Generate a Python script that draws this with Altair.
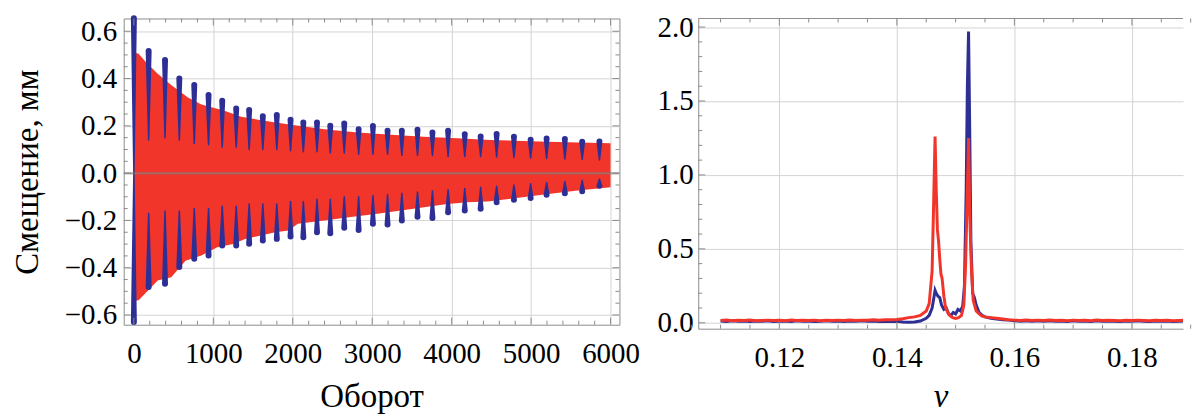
import altair as alt
import pandas as pd

FONT = "Liberation Serif, Times New Roman, serif"
BLUE = "#2e2f95"
RED = "#f2352b"
FRAME = "#8c8c8c"
GRID = "#d4d4d4"

# ---------------- left panel: envelope of the oscillations ----------------
RED_TURN_UP = [0, 60, 150, 300, 470, 680, 850, 1140, 1350, 1640, 1980, 2400,
               2820, 3240, 3650, 4070, 4490, 4800, 5200, 5600, 6000]
RED_UP = [0.51, 0.505, 0.47, 0.42, 0.373, 0.32, 0.29, 0.264, 0.238, 0.222,
          0.205, 0.186, 0.172, 0.162, 0.154, 0.148, 0.14, 0.137, 0.133, 0.13, 0.126]
RED_TURN_LO = [0, 60, 300, 470, 650, 850, 1050, 1250, 1400, 1600, 1780, 1950,
               2063, 2397, 2732, 3068, 3361, 3653, 3947, 4198, 4450, 4721, 5141,
               5559, 6000]
RED_LO = [-0.54, -0.538, -0.454, -0.44, -0.37, -0.348, -0.313, -0.30, -0.278,
          -0.264, -0.25, -0.243, -0.214, -0.2, -0.186, -0.172, -0.158, -0.144,
          -0.13, -0.123, -0.12, -0.109, -0.091, -0.074, -0.06]

# blue beat lobes (turn of the lobe, tip and inner end of each lobe)
LOBE_TURN = [0, 186, 392, 572, 760, 940, 1112, 1288, 1451, 1623, 1799, 1972,
             2133, 2305, 2472, 2648, 2829, 3009, 3193, 3373, 3570, 3758, 3955,
             4165, 4365, 4566, 4784, 4994, 5195, 5425, 5643, 5860]
LOBE_UP_TIP = [0.655, 0.517, 0.479, 0.40, 0.373, 0.33, 0.306, 0.273, 0.267,
               0.241, 0.246, 0.226, 0.214, 0.214, 0.20, 0.21, 0.186, 0.199,
               0.179, 0.179, 0.184, 0.172, 0.179, 0.165, 0.155, 0.166, 0.154,
               0.141, 0.147, 0.144, 0.133, 0.134]
LOBE_UP_INNER = [0.0, 0.14, 0.15, 0.14, 0.125, 0.12, 0.11, 0.11, 0.10, 0.10,
                 0.10, 0.095, 0.09, 0.09, 0.085, 0.085, 0.08, 0.08, 0.08, 0.075,
                 0.075, 0.075, 0.07, 0.07, 0.07, 0.068, 0.066, 0.064, 0.062,
                 0.06, 0.058, 0.056]
LOBE_LO_TIP = [-0.63, -0.482, -0.468, -0.397, -0.362, -0.348, -0.306, -0.306,
               -0.299, -0.285, -0.278, -0.268, -0.271, -0.25, -0.254, -0.231,
               -0.24, -0.214, -0.217, -0.2, -0.184, -0.19, -0.165, -0.158,
               -0.151, -0.123, -0.113, -0.105, -0.091, -0.085, -0.077, -0.053]
LOBE_LO_INNER = [0.0, -0.17, -0.16, -0.16, -0.15, -0.15, -0.14, -0.14, -0.13,
                 -0.13, -0.13, -0.12, -0.12, -0.11, -0.11, -0.10, -0.10, -0.095,
                 -0.09, -0.085, -0.08, -0.075, -0.07, -0.065, -0.06, -0.055,
                 -0.05, -0.045, -0.04, -0.035, -0.03, -0.025]

LX_LABELS = [0, 1000, 2000, 3000, 4000, 5000, 6000]
LY_LABELS = [-0.6, -0.4, -0.2, 0.0, 0.2, 0.4, 0.6]
LX_MINOR = [v for v in range(-100, 6101, 100) if v % 200 == 0 and v % 1000 != 0]
LY_MINOR = [round(-0.6 + 0.05 * i, 2) for i in range(25) if i % 4 != 0]

# ---------------- right panel: spectra ----------------
NU_BLUE = [0.110, 0.111, 0.112, 0.113, 0.114, 0.115, 0.116, 0.117, 0.118, 0.119,
           0.120, 0.121, 0.122, 0.123, 0.124, 0.125, 0.126, 0.127, 0.128, 0.129,
           0.130, 0.131, 0.132, 0.133, 0.134, 0.135, 0.136, 0.137, 0.138, 0.139,
           0.140, 0.141, 0.142, 0.143, 0.144, 0.145, 0.1455, 0.1460, 0.1463,
           0.1465, 0.1467, 0.1470, 0.1473, 0.1476, 0.1480, 0.1484, 0.1488,
           0.1492, 0.1496, 0.1500, 0.1504, 0.1508, 0.1512, 0.1515, 0.1518,
           0.1520, 0.1522, 0.1524, 0.1526, 0.1529, 0.1532, 0.1535, 0.1540,
           0.1545, 0.1550, 0.1555, 0.1560, 0.157, 0.158, 0.159, 0.160, 0.161,
           0.162, 0.163, 0.164, 0.165, 0.166, 0.167, 0.168, 0.169, 0.170, 0.171,
           0.172, 0.173, 0.174, 0.175, 0.176, 0.177, 0.178, 0.179, 0.180, 0.181,
           0.182, 0.183, 0.184, 0.185, 0.186, 0.187, 0.188, 0.189, 0.190]
S_BLUE = [0.012, 0.009, 0.013, 0.010, 0.012, 0.008, 0.012, 0.010, 0.013, 0.009,
          0.011, 0.012, 0.009, 0.013, 0.010, 0.012, 0.009, 0.011, 0.013, 0.010,
          0.012, 0.009, 0.012, 0.011, 0.013, 0.010, 0.012, 0.008, 0.011, 0.009,
          0.010, 0.006, 0.004, 0.006, 0.012, 0.030, 0.05, 0.10, 0.17,
          0.22, 0.20, 0.18, 0.17, 0.12, 0.09, 0.10, 0.06,
          0.05, 0.07, 0.06, 0.09, 0.08, 0.11, 0.25, 0.90,
          1.60, 1.97, 1.30, 0.55, 0.20, 0.17, 0.12, 0.07,
          0.05, 0.04, 0.035, 0.03, 0.025, 0.02, 0.018, 0.014, 0.011,
          0.014, 0.010, 0.013, 0.011, 0.014, 0.010, 0.012, 0.009, 0.013, 0.011,
          0.012, 0.009, 0.013, 0.010, 0.012, 0.011, 0.009, 0.012, 0.010, 0.013,
          0.011, 0.009, 0.012, 0.010, 0.012, 0.009, 0.011, 0.012, 0.010]
NU_RED = [0.110, 0.111, 0.112, 0.113, 0.114, 0.115, 0.116, 0.117, 0.118, 0.119,
          0.120, 0.121, 0.122, 0.123, 0.124, 0.125, 0.126, 0.127, 0.128, 0.129,
          0.130, 0.131, 0.132, 0.133, 0.134, 0.135, 0.136, 0.137, 0.138, 0.139,
          0.140, 0.141, 0.142, 0.143, 0.144, 0.145, 0.1455, 0.1460, 0.1462,
          0.1465, 0.1467, 0.1469, 0.1471, 0.1473, 0.1475, 0.1477, 0.1480,
          0.1483, 0.1487, 0.1490, 0.1495, 0.1500, 0.1505, 0.1510, 0.1514,
          0.1517, 0.1520, 0.1522, 0.1524, 0.1525, 0.1527, 0.1530, 0.1535,
          0.1540, 0.1545, 0.155, 0.156, 0.157, 0.158, 0.159, 0.160, 0.161,
          0.162, 0.163, 0.164, 0.165, 0.166, 0.167, 0.168, 0.169, 0.170, 0.171,
          0.172, 0.173, 0.174, 0.175, 0.176, 0.177, 0.178, 0.179, 0.180, 0.181,
          0.182, 0.183, 0.184, 0.185, 0.186, 0.187, 0.188, 0.189, 0.190]
S_RED = [0.015, 0.018, 0.014, 0.017, 0.015, 0.018, 0.014, 0.016, 0.018, 0.015,
         0.017, 0.014, 0.018, 0.015, 0.017, 0.016, 0.018, 0.014, 0.017, 0.015,
         0.018, 0.016, 0.019, 0.015, 0.018, 0.017, 0.020, 0.018, 0.021, 0.020,
         0.022, 0.028, 0.035, 0.040, 0.050, 0.080, 0.13, 0.35, 0.70,
         1.26, 0.90, 0.63, 0.55, 0.43, 0.33, 0.30, 0.18,
         0.10, 0.07, 0.05, 0.035, 0.03, 0.035, 0.05, 0.12,
         0.40, 0.90, 1.25, 0.75, 0.61, 0.35, 0.15, 0.08,
         0.06, 0.045, 0.04, 0.035, 0.03, 0.025, 0.02, 0.018, 0.016,
         0.019, 0.015, 0.018, 0.016, 0.019, 0.015, 0.017, 0.014, 0.018, 0.016,
         0.017, 0.014, 0.018, 0.015, 0.017, 0.016, 0.014, 0.017, 0.015, 0.018,
         0.016, 0.014, 0.017, 0.015, 0.017, 0.014, 0.016, 0.017, 0.015]

RX_LABELS = [0.12, 0.14, 0.16, 0.18]
RY_LABELS = [0.0, 0.5, 1.0, 1.5, 2.0]
RX_MINOR = [round(0.105 + 0.005 * i, 3) for i in range(18) if (i + 1) % 4 != 0]
RY_MINOR = [round(0.1 * i, 1) for i in range(21) if i % 5 != 0]

# ---------------- geometry ----------------
W1, H1 = 497, 307
W2, H2 = 486, 311
X1_DOM = [-128, 6112]
Y1_DOM = [-0.641, 0.654]
X2_DOM = [0.1062, 0.1887]
Y2_DOM = [-0.040, 2.058]
MAJ, MIN = 7, 4
LABEL_SIZE = 29
TITLE_SIZE = 33

TXT = dict(labelFont=FONT, labelFontSize=LABEL_SIZE, labelColor="black",
           titleFont=FONT, titleFontSize=TITLE_SIZE, titleFontWeight="normal", titleColor="black")


def mk_x(field, dom, ax):
    return alt.X(field, type="quantitative", scale=alt.Scale(domain=dom, nice=False, zero=False), axis=ax)


def mk_y(field, dom, ax):
    return alt.Y(field, type="quantitative", scale=alt.Scale(domain=dom, nice=False, zero=False), axis=ax)


def tick_layers(xvals, yvals, X, Y, W, H, L, right_side=True):
    out = []
    dx = pd.DataFrame({"v": xvals})
    dy = pd.DataFrame({"v": yvals})
    out.append(alt.Chart(dx).mark_rule(color=FRAME, strokeWidth=1).encode(
        x=X("v"), y=alt.value(H), y2=alt.value(H - L)))
    out.append(alt.Chart(dx).mark_rule(color=FRAME, strokeWidth=1).encode(
        x=X("v"), y=alt.value(0), y2=alt.value(L)))
    out.append(alt.Chart(dy).mark_rule(color=FRAME, strokeWidth=1).encode(
        y=Y("v"), x=alt.value(0), x2=alt.value(L)))
    if right_side:
        out.append(alt.Chart(dy).mark_rule(color=FRAME, strokeWidth=1).encode(
            y=Y("v"), x=alt.value(W), x2=alt.value(W - L)))
    return out


# ---- left chart ----
ax_lx = alt.Axis(values=LX_LABELS, format="d", grid=True, gridColor=GRID, ticks=False,
                 domain=False, labelPadding=15, titlePadding=12, title="Оборот", **TXT)
ax_ly = alt.Axis(values=LY_LABELS, format=".1f", grid=True, gridColor=GRID, ticks=False,
                 domain=False, labelPadding=7, titlePadding=20, title="Смещение, мм", **TXT)
X1 = lambda f: mk_x(f, X1_DOM, ax_lx)
Y1 = lambda f: mk_y(f, Y1_DOM, ax_ly)

up_df = pd.DataFrame({"turn": RED_TURN_UP, "val": RED_UP})
lo_df = pd.DataFrame({"turn": RED_TURN_LO, "val": RED_LO})
area_up = alt.Chart(up_df).mark_area(color=RED, opacity=1).encode(
    x=X1("turn"), y=Y1("val"), y2=alt.datum(0))
area_lo = alt.Chart(lo_df).mark_area(color=RED, opacity=1).encode(
    x=X1("turn"), y=Y1("val"), y2=alt.datum(0))

rows = []
for i, t in enumerate(LOBE_TURN):
    rows.append({"id": f"u{i}", "turn": t, "val": LOBE_UP_INNER[i], "k": 0})
    rows.append({"id": f"u{i}", "turn": t, "val": LOBE_UP_TIP[i], "k": 1})
    rows.append({"id": f"l{i}", "turn": t, "val": LOBE_LO_INNER[i], "k": 0})
    rows.append({"id": f"l{i}", "turn": t, "val": LOBE_LO_TIP[i], "k": 1})
lobe_df = pd.DataFrame(rows)
lobes = alt.Chart(lobe_df).mark_trail(color=BLUE).encode(
    x=X1("turn"), y=Y1("val"), detail="id:N", order="k:Q",
    size=alt.Size("k:Q", scale=alt.Scale(domain=[0, 1], range=[1.5, 6.0]), legend=None))

zero = alt.Chart(pd.DataFrame({"z": [0.0]})).mark_rule(
    color="#7a7a7a", opacity=0.55, strokeWidth=2.5).encode(y=Y1("z"))

left_layers = [area_up, area_lo, lobes, zero]
left_layers += tick_layers(LX_LABELS, LY_LABELS, X1, Y1, W1, H1, MAJ)
left_layers += tick_layers(LX_MINOR, LY_MINOR, X1, Y1, W1, H1, MIN)
left = alt.layer(*left_layers).properties(
    width=W1, height=H1, view=alt.ViewBackground(stroke=FRAME, strokeWidth=1))

# ---- right chart ----
ax_rx = alt.Axis(values=RX_LABELS, format=".2f", grid=True, gridColor=GRID, ticks=False,
                 domain=True, domainColor=FRAME, domainWidth=1,
                 labelPadding=15, titlePadding=8, title="ν", titleFontStyle="italic", **TXT)
ax_ry = alt.Axis(values=RY_LABELS, format=".1f", grid=True, gridColor=GRID, ticks=False,
                 domain=True, domainColor=FRAME, domainWidth=1, labelPadding=5, title=None, **TXT)
X2 = lambda f: mk_x(f, X2_DOM, ax_rx)
Y2 = lambda f: mk_y(f, Y2_DOM, ax_ry)

blue_df = pd.DataFrame({"nu": NU_BLUE, "s": S_BLUE})
red_df = pd.DataFrame({"nu": NU_RED, "s": S_RED})
line_b = alt.Chart(blue_df).mark_line(color=BLUE, strokeWidth=3, clip=True).encode(
    x=X2("nu"), y=Y2("s"))
line_r = alt.Chart(red_df).mark_line(color=RED, strokeWidth=3, clip=True).encode(
    x=X2("nu"), y=Y2("s"))
top_frame = alt.Chart(pd.DataFrame({"a": [0]})).mark_rule(color=FRAME, strokeWidth=1).encode(
    x=alt.value(0), x2=alt.value(W2), y=alt.value(0))

right_layers = [line_b, line_r, top_frame]
right_layers += tick_layers(RX_LABELS, RY_LABELS, X2, Y2, W2, H2, MAJ, right_side=False)
right_layers += tick_layers(RX_MINOR, RY_MINOR, X2, Y2, W2, H2, MIN, right_side=False)
right = alt.layer(*right_layers).properties(
    width=W2, height=H2, view=alt.ViewBackground(stroke="transparent"))

chart = alt.hconcat(left, right, spacing=16).properties(
    padding={"left": 2, "top": 4, "right": 0, "bottom": 0}
).configure(
    font=FONT,
    style={"guide-label": {"font": FONT, "fontSize": LABEL_SIZE, "fill": "black"},
           "guide-title": {"font": FONT, "fontWeight": "normal"}},
).configure_axis(
    labelFont=FONT, labelFontSize=LABEL_SIZE, labelColor="black",
    titleFont=FONT, titleFontWeight="normal", titleColor="black"
).configure_view(stroke=None)

chart.save("out.html", embed_options={"renderer": "svg", "actions": False})
